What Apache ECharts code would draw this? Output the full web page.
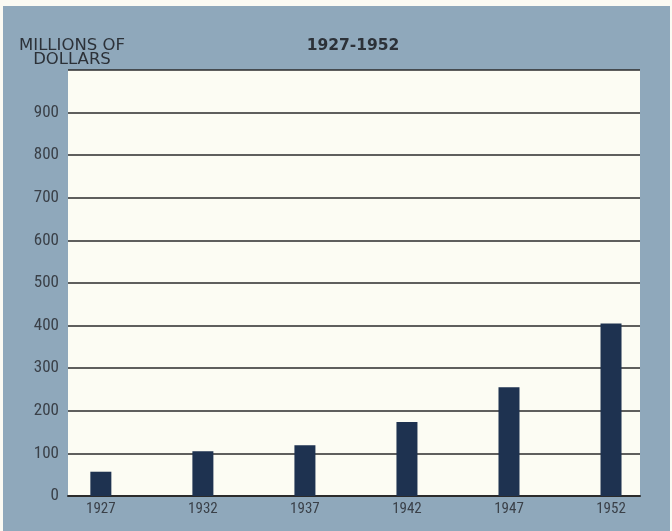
<!DOCTYPE html>
<html>
<head>
<meta charset="utf-8">
<script src="https://cdn.jsdelivr.net/npm/echarts@6/dist/echarts.min.js"></script>
<style>
  html, body { margin: 0; padding: 0; background: #fbfaf3; }
  #chart { position: absolute; left: 3px; top: 6px; width: 667px; height: 525px; }
</style>
</head>
<body>
<div id="chart"></div>
<script>
// Years shown along the bottom
const years = [1927, 1932, 1937, 1942, 1947, 1952];
// Millions of dollars for each year
const values = [57, 105, 119, 174, 255, 405];
// Y axis range and step
const yMin = 0;
const yMax = 1000;
const yStep = 100;

const chart = echarts.init(document.getElementById('chart'), null, { renderer: 'canvas' });

const narrowFont = '"Liberation Sans Narrow", "Roboto Condensed", "DejaVu Sans Condensed", sans-serif';
const headFont = '"DejaVu Sans", "Liberation Sans", sans-serif';

chart.setOption({
  backgroundColor: '#8fa8bb',
  animation: false,
  title: [
    {
      text: '1927-1952',
      left: 345, top: 27, textAlign: 'center',
      textStyle: { fontFamily: headFont, fontSize: 15.5, fontWeight: 'bold', color: '#2c3138' }
    },
    {
      text: 'MILLIONS OF\nDOLLARS',
      left: 64, top: 27, textAlign: 'center',
      textStyle: { fontFamily: headFont, fontSize: 16.5, fontWeight: 'normal', color: '#2c3138', lineHeight: 14.5, align: 'center' }
    }
  ],
  grid: {
    left: 65, right: 30, top: 64, bottom: 35,
    show: true, backgroundColor: '#fcfcf3', borderWidth: 0
  },
  xAxis: {
    type: 'value',
    min: 1925.39,
    max: 1953.42,
    splitLine: { show: false },
    axisTick: { show: false },
    axisLine: { show: true, lineStyle: { color: '#2b2b2b', width: 2 } },
    axisLabel: {
      customValues: years,
      formatter: v => String(v),
      fontFamily: narrowFont, fontSize: 15, color: '#3a4048', margin: 6
    }
  },
  yAxis: {
    type: 'value',
    min: yMin, max: yMax, interval: yStep,
    axisLine: { show: false },
    axisTick: { show: false },
    axisLabel: {
      fontFamily: narrowFont, fontSize: 17, color: '#3a4048', margin: 9,
      formatter: v => (v >= yMax ? '' : String(v))
    },
    splitLine: { show: true, lineStyle: { color: '#2b2b2b', width: 1.5 } }
  },
  series: [{
    type: 'bar',
    data: years.map((y, i) => [y, values[i]]),
    barWidth: 21,
    itemStyle: { color: '#1e3250' }
  }]
});
</script>
</body>
</html>
